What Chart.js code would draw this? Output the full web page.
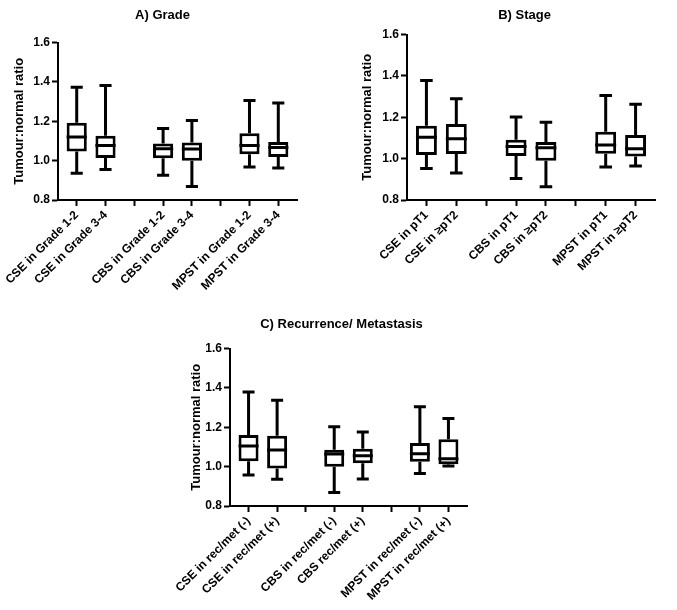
<!DOCTYPE html>
<html>
<head>
<meta charset="utf-8">
<script src="https://cdn.jsdelivr.net/npm/chart.js@4.4.0/dist/chart.umd.min.js"></script>
<style>
  html, body { margin: 0; padding: 0; background: #fff; }
  body { width: 677px; height: 610px; position: relative; overflow: hidden; }
  .panel { position: absolute; }
</style>
</head>
<body>
<div class="panel" style="left:0;top:0;width:340px;height:300px"><canvas id="gradeChart"></canvas></div>
<div class="panel" style="left:340px;top:0;width:337px;height:300px"><canvas id="stageChart"></canvas></div>
<div class="panel" style="left:170px;top:300px;width:340px;height:310px"><canvas id="recChart"></canvas></div>
<script>
// A) Grade
const gradeLabels = ['CSE in Grade 1-2', 'CSE in Grade 3-4', '', 'CBS in Grade 1-2', 'CBS in Grade 3-4', '', 'MPST in Grade 1-2', 'MPST in Grade 3-4'];
const gradeMin    = [0.936, 0.955, null, 0.926, 0.869, null, 0.968, 0.963];
const gradeQ1     = [1.047, 1.013, null, 1.012, 1.000, null, 1.032, 1.018];
const gradeMedian = [1.120, 1.077, null, 1.060, 1.059, null, 1.077, 1.067];
const gradeQ3     = [1.192, 1.126, null, 1.087, 1.092, null, 1.139, 1.095];
const gradeMax    = [1.373, 1.382, null, 1.164, 1.204, null, 1.306, 1.293];

// B) Stage
const stageLabels = ['CSE in pT1', 'CSE in ≥pT2', '', 'CBS in pT1', 'CBS in ≥pT2', '', 'MPST in pT1', 'MPST in ≥pT2'];
const stageMin    = [0.952, 0.931, null, 0.904, 0.864, null, 0.960, 0.965];
const stageQ1     = [1.018, 1.022, null, 1.013, 0.990, null, 1.024, 1.011];
const stageMedian = [1.103, 1.096, null, 1.059, 1.053, null, 1.066, 1.048];
const stageQ3     = [1.159, 1.168, null, 1.091, 1.080, null, 1.130, 1.114];
const stageMax    = [1.378, 1.290, null, 1.202, 1.176, null, 1.305, 1.263];

// C) Recurrence/ Metastasis
const recLabels = ['CSE in rec/met (-)', 'CSE in rec/met (+)', '', 'CBS in rec/met (-)', 'CBS rec/met (+)', '', 'MPST in rec/met (-)', 'MPST in rec/met (+)'];
const recMin    = [0.958, 0.936, null, 0.868, 0.937, null, 0.965, 1.003];
const recQ1     = [1.027, 0.990, null, 1.000, 1.017, null, 1.025, 1.012];
const recMedian = [1.105, 1.084, null, 1.064, 1.056, null, 1.066, 1.040];
const recQ3     = [1.161, 1.157, null, 1.086, 1.091, null, 1.120, 1.139];
const recMax    = [1.380, 1.338, null, 1.203, 1.176, null, 1.304, 1.245];

const yTicks = [0.8, 1.0, 1.2, 1.4, 1.6];
const yTitle = 'Tumour:normal ratio';

const FONT = "'Liberation Sans', Arial, Helvetica, sans-serif";

// whiskers + median line on top of the floating bars
function boxPlugin(boxes, mins, medians, maxs) {
    return {
        id: 'boxWhiskers',
        afterDatasetsDraw(chart) {
            const ctx = chart.ctx;
            const yScale = chart.scales.y;
            const meta = chart.getDatasetMeta(0);
            ctx.save();
            ctx.strokeStyle = '#000';
            ctx.lineWidth = 3;
            ctx.lineCap = 'butt';
            meta.data.forEach((bar, j) => {
                const i = boxes[j].x;
                const p = bar.getProps(['x', 'y', 'base', 'width'], true);
                const half = p.width / 2;
                const cap = half * 0.6;
                const top = Math.min(p.y, p.base);
                const bottom = Math.max(p.y, p.base);
                const yMax = yScale.getPixelForValue(maxs[i]);
                const yMin = yScale.getPixelForValue(mins[i]);
                const yMed = yScale.getPixelForValue(medians[i]);
                ctx.beginPath();
                ctx.moveTo(p.x, top); ctx.lineTo(p.x, yMax);
                ctx.moveTo(p.x - cap, yMax); ctx.lineTo(p.x + cap, yMax);
                ctx.moveTo(p.x, bottom); ctx.lineTo(p.x, yMin);
                ctx.moveTo(p.x - cap, yMin); ctx.lineTo(p.x + cap, yMin);
                ctx.moveTo(p.x - half, yMed); ctx.lineTo(p.x + half, yMed);
                ctx.stroke();
            });
            ctx.restore();
        }
    };
}

// the figure's titles sit a little right of the canvas centre
function titleShiftPlugin(shift) {
    return {
        id: 'titleShift',
        afterLayout(chart) {
            const t = chart.titleBlock;
            if (t) { t.left += shift; t.right += shift; }
        }
    };
}

function drawPanel(canvasId, titleText, labels, mins, q1s, medians, q3s, maxs, geo) {
    const boxes = [];
    q1s.forEach((q1, i) => {
        if (q1 != null) boxes.push({ x: i, y: [q1, q3s[i]] });
    });
    new Chart(document.getElementById(canvasId), {
        type: 'bar',
        data: {
            datasets: [{
                data: boxes,
                backgroundColor: '#fff',
                borderColor: '#000',
                borderWidth: 3,
                borderSkipped: false,
                barPercentage: 0.7,
                categoryPercentage: 1
            }]
        },
        options: {
            responsive: true,
            maintainAspectRatio: false,
            animation: false,
            layout: { padding: { left: 0, right: geo.right, top: 0, bottom: 0 } },
            plugins: {
                legend: { display: false },
                tooltip: { enabled: false },
                title: {
                    display: true,
                    text: titleText,
                    color: '#000',
                    font: { family: FONT, size: 13, weight: 'bold' },
                    padding: { top: geo.titleTop, bottom: geo.titleBottom }
                }
            },
            scales: {
                x: {
                    type: 'linear',
                    offset: false,
                    min: -0.65,
                    max: labels.length - 1 + 0.65,
                    afterBuildTicks: (s) => { s.ticks = labels.map((_, i) => ({ value: i })); },
                    grid: { display: true, offset: false, drawOnChartArea: false, tickLength: 6, tickWidth: 2, tickColor: '#000' },
                    border: { display: true, color: '#000', width: 2 },
                    ticks: {
                        autoSkip: false, minRotation: 45, maxRotation: 45, padding: 2, color: '#000',
                        font: { family: FONT, size: 12, weight: 'bold' },
                        callback: (v) => labels[v]
                    },
                    afterFit: (s) => { s.height = geo.xHeight; s.paddingLeft = 0; s.paddingRight = 0; }
                },
                y: {
                    min: yTicks[0],
                    max: yTicks[yTicks.length - 1],
                    afterBuildTicks: (s) => { s.ticks = yTicks.map(v => ({ value: v })); },
                    ticks: {
                        padding: 2, color: '#000',
                        font: { family: FONT, size: 12, weight: 'bold' },
                        callback: (v) => Number(v).toFixed(1)
                    },
                    grid: { drawOnChartArea: false, tickLength: 6, tickWidth: 2, tickColor: '#000' },
                    border: { display: true, color: '#000', width: 2 },
                    title: {
                        display: true, text: yTitle, color: '#000',
                        font: { family: FONT, size: 13, weight: 'bold' },
                        padding: { top: geo.yTitlePad, bottom: 0 }
                    },
                    afterFit: (s) => { s.width = geo.yWidth; }
                }
            }
        },
        plugins: [boxPlugin(boxes, mins, medians, maxs), titleShiftPlugin(geo.titleShift)]
    });
}

drawPanel('gradeChart', 'A) Grade', gradeLabels, gradeMin, gradeQ1, gradeMedian, gradeQ3, gradeMax,
    { yWidth: 58, right: 43, titleTop: 8, titleBottom: 19, xHeight: 100, yTitlePad: 12, titleShift: 14 });
drawPanel('stageChart', 'B) Stage', stageLabels, stageMin, stageQ1, stageMedian, stageQ3, stageMax,
    { yWidth: 67, right: 22, titleTop: 8, titleBottom: 11, xHeight: 100, yTitlePad: 20, titleShift: 27 });
drawPanel('recChart', 'C) Recurrence/ Metastasis', recLabels, recMin, recQ1, recMedian, recQ3, recMax,
    { yWidth: 60, right: 43, titleTop: 17, titleBottom: 16, xHeight: 104, yTitlePad: 19, titleShift: 23 });
</script>
</body>
</html>
